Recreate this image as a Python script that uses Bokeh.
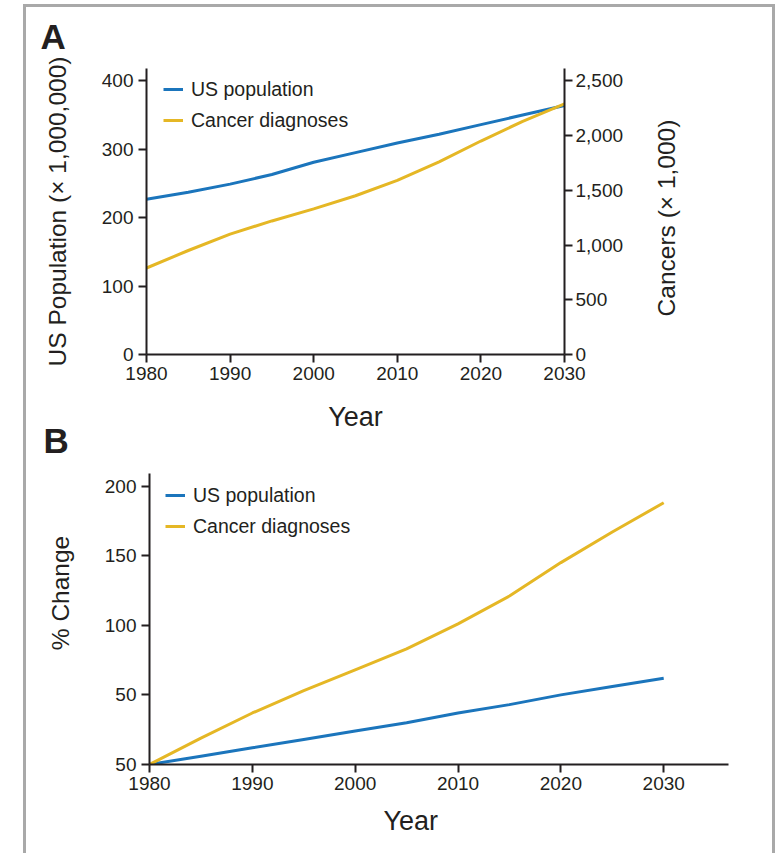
import math
from bokeh.plotting import figure
from bokeh.models import (Range1d, LinearAxis, FixedTicker, NumeralTickFormatter,
                          Legend, LegendItem, Title, Label)
from bokeh.layouts import column, row
from bokeh.embed import file_html
from bokeh.resources import INLINE

# ---------------- data ----------------
years = [1980, 1985, 1990, 1995, 2000, 2005, 2010, 2015, 2020, 2025, 2030]
us_population_millions = [227, 237, 249, 263, 281, 295, 309, 322, 336, 350, 364]
cancer_diagnoses_thousands = [790, 950, 1100, 1220, 1330, 1450, 1590, 1760, 1950, 2130, 2290]
pct_change_population = [0, 6, 12, 18, 24, 30, 37, 43, 50, 56, 62]
pct_change_cancer = [0, 19, 37, 53, 68, 83, 101, 121, 145, 167, 188]

year_ticks = [1980, 1990, 2000, 2010, 2020, 2030]
population_ticks = [0, 100, 200, 300, 400]
cancer_ticks = [0, 500, 1000, 1500, 2000, 2500]
pct_ticks = [0, 50, 100, 150, 200]
pct_tick_labels = {0: "50", 50: "50", 100: "100", 150: "150", 200: "200"}

series_names = ["US population", "Cancer diagnoses"]

BLUE = "#1b75bc"
GOLD = "#e5b725"
INK = "#231f20"
FONT = "Liberation Sans"


def style_axis(ax):
    ax.axis_line_width = 2
    ax.axis_line_color = INK
    ax.major_tick_line_width = 2
    ax.major_tick_line_color = INK
    ax.major_tick_in = 0
    ax.major_tick_out = 8
    ax.minor_tick_line_color = None
    ax.major_label_text_font = FONT
    ax.major_label_text_font_size = "19px"
    ax.major_label_text_color = INK
    ax.major_label_standoff = 5
    ax.axis_label_text_font = FONT
    ax.axis_label_text_font_style = "normal"
    ax.axis_label_text_color = INK


def style_legend(lg):
    lg.border_line_color = None
    lg.background_fill_alpha = 0
    lg.padding = 0
    lg.margin = 0
    lg.spacing = 3
    lg.glyph_width = 20
    lg.glyph_height = 28
    lg.label_height = 28
    lg.label_standoff = 8
    lg.label_text_font = FONT
    lg.label_text_font_size = "19.5px"
    lg.label_text_color = INK


def label_strip(width, height, text, x, y):
    """A bare figure whose only content is one rotated axis title."""
    s = figure(width=width, height=height, output_backend="svg", toolbar_location=None,
               x_range=Range1d(0, width), y_range=Range1d(0, height),
               x_axis_type=None, y_axis_type=None, min_border=0, frame_align=False)
    s.outline_line_color = None
    s.border_fill_color = None
    s.background_fill_color = None
    s.xgrid.visible = False
    s.ygrid.visible = False
    s.add_layout(Label(x=x, y=y, text=text, angle=math.pi / 2,
                       text_font=FONT, text_font_size="24.5px", text_color=INK,
                       text_align="center", text_baseline="middle"))
    return s


# ---------------- panel A ----------------
p1 = figure(width=624, height=455, output_backend="svg", toolbar_location=None,
            x_range=Range1d(1980, 2030), y_range=Range1d(0, 418),
            min_border_left=120, min_border_right=86,
            min_border_top=66, min_border_bottom=103, frame_align=False)
p1.extra_y_ranges = {"cancer": Range1d(0, 2612.5)}
p1.xgrid.visible = False
p1.ygrid.visible = False
p1.outline_line_color = None
p1.border_fill_color = None
p1.add_layout(Title(text="A", align="left", offset=-106, standoff=25,
                    text_font=FONT, text_font_size="35px", text_font_style="bold",
                    text_color=INK), "above")

r_pop = p1.line(years, us_population_millions, line_color=BLUE, line_width=3)
r_can = p1.line(years, cancer_diagnoses_thousands, line_color=GOLD, line_width=3,
                y_range_name="cancer")

p1.xaxis.ticker = FixedTicker(ticks=year_ticks)
p1.yaxis.ticker = FixedTicker(ticks=population_ticks)
right_axis = LinearAxis(y_range_name="cancer", ticker=FixedTicker(ticks=cancer_ticks),
                        formatter=NumeralTickFormatter(format="0,0"))
p1.add_layout(right_axis, "right")

for ax in [p1.xaxis[0], p1.yaxis[0], right_axis]:
    style_axis(ax)
p1.xaxis.major_label_standoff = 4
right_axis.major_label_standoff = 3

p1.xaxis.axis_label = "Year"
p1.xaxis.axis_label_text_font_size = "27px"
p1.xaxis.axis_label_standoff = 19

p1.yaxis[0].axis_label = "US Population (× 1,000,000)"
p1.yaxis[0].axis_label_text_font_size = "24.5px"
p1.yaxis[0].axis_label_standoff = 28

leg1 = Legend(items=[LegendItem(label=series_names[0], renderers=[r_pop]),
                     LegendItem(label=series_names[1], renderers=[r_can])],
              location=(17, 220))
style_legend(leg1)
p1.add_layout(leg1)

# strip right of panel A with the right-hand axis title
p1r = label_strip(122, 455, "Cancers (× 1,000)", 16, 239.5)

# ---------------- panel B ----------------
p2 = figure(width=676, height=451, output_backend="svg", toolbar_location=None,
            x_range=Range1d(1980, 2036.3), y_range=Range1d(0, 209),
            min_border_left=53, min_border_right=44,
            min_border_top=68, min_border_bottom=92, frame_align=False)
p2.xgrid.visible = False
p2.ygrid.visible = False
p2.outline_line_color = None
p2.border_fill_color = None
p2.background_fill_color = None

r_pop2 = p2.line(years, pct_change_population, line_color=BLUE, line_width=3)
r_can2 = p2.line(years, pct_change_cancer, line_color=GOLD, line_width=3)

p2.xaxis.ticker = FixedTicker(ticks=year_ticks)
p2.yaxis.ticker = FixedTicker(ticks=pct_ticks)
p2.yaxis.major_label_overrides = pct_tick_labels
for ax in [p2.xaxis[0], p2.yaxis[0]]:
    style_axis(ax)
p2.xaxis.major_label_standoff = 4

p2.add_layout(Title(text="Year", align="left", offset=234, standoff=23,
                    text_font=FONT, text_font_size="27px", text_font_style="normal",
                    text_color=INK), "below")

leg2 = Legend(items=[LegendItem(label=series_names[0], renderers=[r_pop2]),
                     LegendItem(label=series_names[1], renderers=[r_can2])],
              location=(16, 224))
style_legend(leg2)
p2.add_layout(leg2)

# strip left of panel B with the panel letter and its y-axis title
p2l = label_strip(70, 451, "% Change", 34, 263.5)
p2l.add_layout(Label(x=17, y=416, text="B", text_font=FONT, text_font_size="35px",
                     text_font_style="bold", text_color=INK,
                     text_align="left", text_baseline="alphabetic"))

frame_color = "#a9a9a9"
top_row = row(p1, p1r, margin=(-5, 0, 0, 0))
bottom_row = row(p2l, p2, margin=(-52, 0, 0, 0))
layout = column(top_row, bottom_row, margin=(7, 0, 0, 26),
                styles={"box-shadow": f"-3px -3px 0 0 {frame_color}, 3px -3px 0 0 {frame_color}"})

open("out.html", "w").write(file_html(layout, INLINE))
